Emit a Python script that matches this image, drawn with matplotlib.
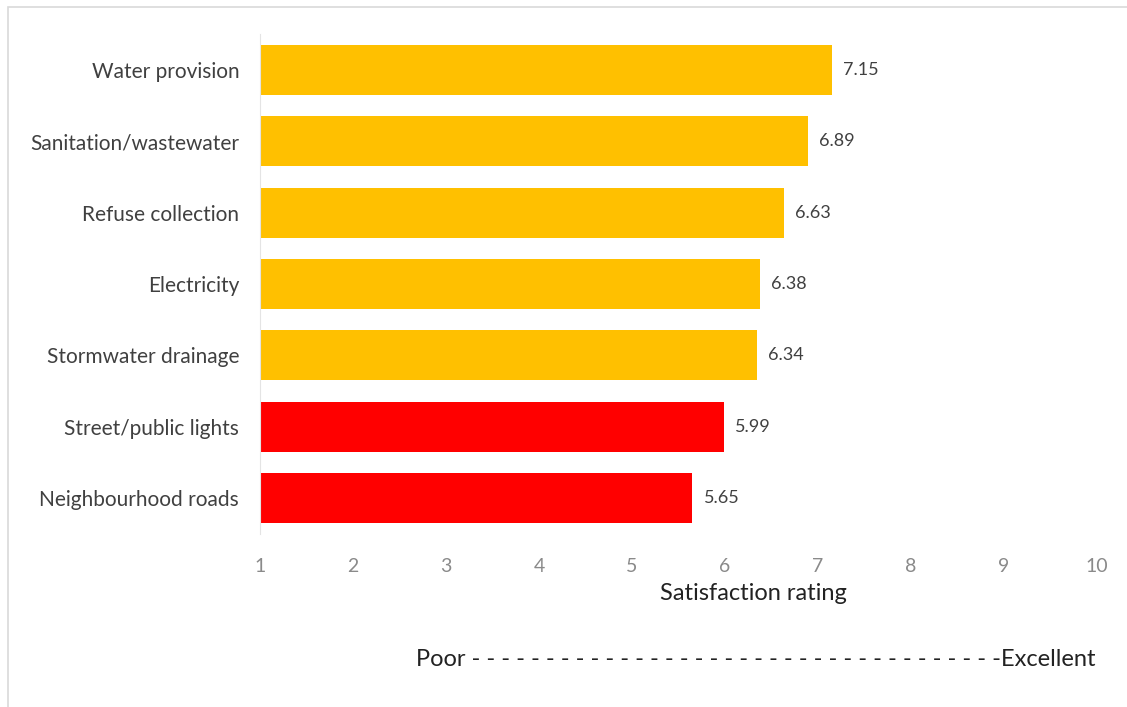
import matplotlib
matplotlib.use('Agg')
import matplotlib.pyplot as plt

# survey results, top to bottom
categories = ['Water provision', 'Sanitation/wastewater', 'Refuse collection',
              'Electricity', 'Stormwater drainage', 'Street/public lights',
              'Neighbourhood roads']
ratings = [7.15, 6.89, 6.63, 6.38, 6.34, 5.99, 5.65]
bar_colors = ['#FFC000'] * 5 + ['#FF0000'] * 2
xticks = list(range(1, 11))

plt.rcParams['font.family'] = ['Lato', 'DejaVu Sans']

fig = plt.figure(figsize=(11.27, 7.07), dpi=100)
# light border round the chart area
fig.patches.append(plt.Rectangle((0.007, -0.01), 1.2, 1.0, transform=fig.transFigure,
                                 fill=False, edgecolor='#d9d9d9', linewidth=1.2))
ax = fig.add_axes([260 / 1127, 1 - 534 / 707, (1097 - 260) / 1127, (534 - 34) / 707])

ypos = list(range(len(categories)))
bars = ax.barh(ypos, [r - 1 for r in ratings], left=1, height=0.7, color=bar_colors)
for y, r in zip(ypos, ratings):
    ax.text(r + 0.12, y, '%.2f' % r, va='center', ha='left', fontsize=13, color='#404040')

ax.set_xlim(1, 10)
ax.set_ylim(len(categories) - 0.5, -0.5)
ax.set_yticks(ypos)
ax.set_yticklabels(categories, fontsize=15, color='#404040')
ax.set_xticks(xticks)
ax.set_xticklabels([str(t) for t in xticks], fontsize=14, color='#8a8a8a')
ax.tick_params(axis='both', length=0)
ax.tick_params(axis='y', pad=15)
ax.tick_params(axis='x', pad=17)
for side in ['top', 'right', 'bottom']:
    ax.spines[side].set_visible(False)
ax.spines['left'].set_color('#e4e4e4')

fig.text(753 / 1127, 1 - 593 / 707, 'Satisfaction rating', ha='center', va='center',
         fontsize=17, color='#222222')
fig.text(416 / 1127, 1 - 660 / 707, 'Poor ' + '- ' * 35 + '-Excellent', ha='left',
         va='center', fontsize=17, color='#222222')

fig.savefig('out.png', dpi=100)
